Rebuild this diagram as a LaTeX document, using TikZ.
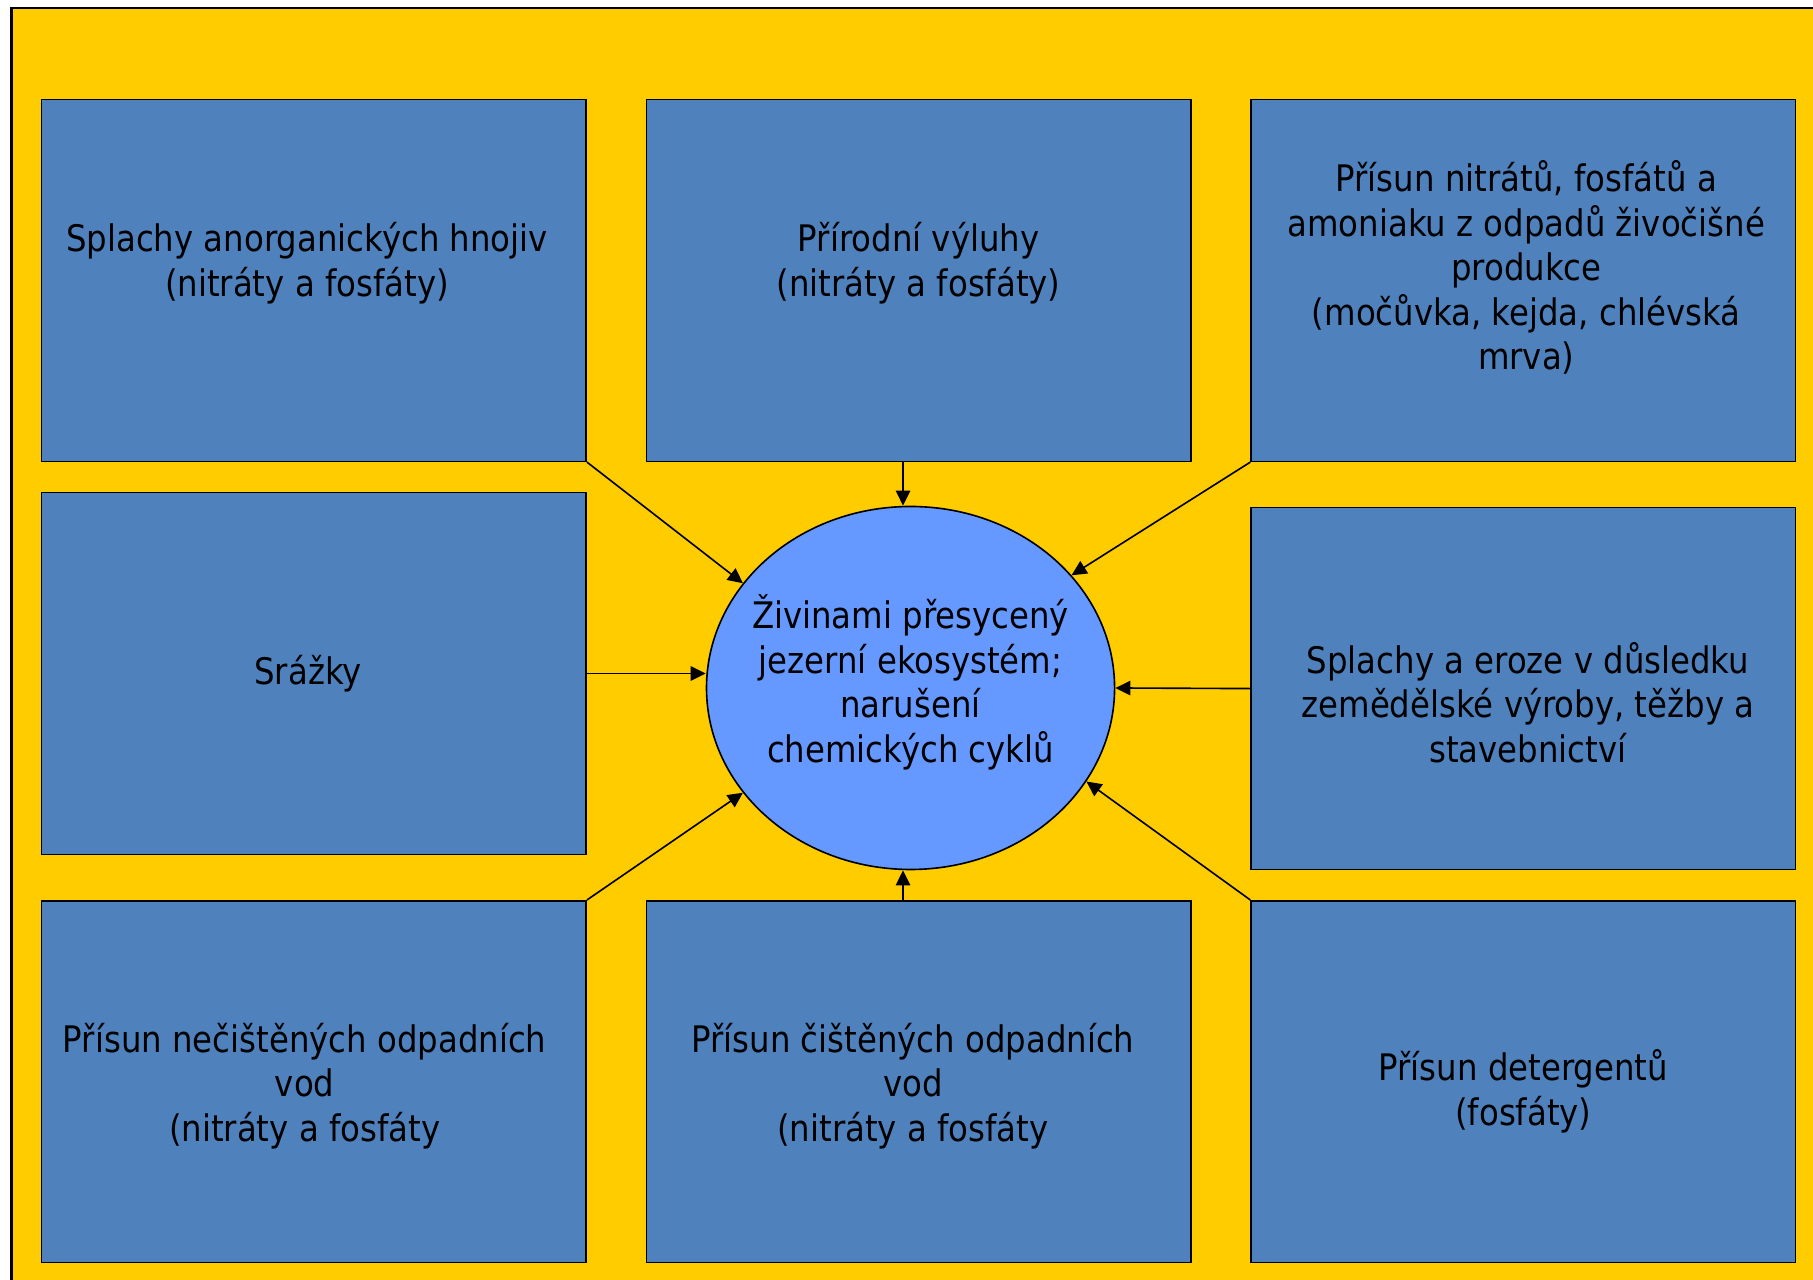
\documentclass[tikz,border=0pt]{standalone}
\usepackage{fontspec}
\setmainfont[FakeStretch=0.885]{DejaVu Sans}
\usetikzlibrary{arrows.meta,shapes.geometric,positioning}
\definecolor{slideyellow}{HTML}{FFCC00}
\definecolor{boxblue}{HTML}{4F81BD}
\definecolor{lakeblue}{HTML}{6699FF}
\tikzset{
  srcbox/.style={draw, rectangle, fill=boxblue, line width=0.8pt, minimum width=9.42cm, minimum height=6.26cm, inner sep=0pt},
  lakeell/.style={draw, ellipse, fill=lakeblue, line width=0.8pt, minimum width=7.06cm, minimum height=6.28cm, inner sep=0pt},
  boxtext/.style={align=center, inner sep=0pt, font=\fontsize{18}{21.9}\selectfont},
  feed/.style={-{Triangle[length=0.26cm, width=0.25cm]}, line width=0.8pt}
}

\begin{document}
\begin{tikzpicture}[x=0.02cm, y=-0.02cm]
        \useasboundingbox (0,0) rectangle (1568,1107);
        \fill[white] (0,0) rectangle (1568,1107);
        \clip (0,0) rectangle (1568,1107);
        % Slide background, cut off on the right and at the bottom
        \draw[fill=slideyellow, line width=1.1pt] (10,7) rectangle (1600,1140);

        % Sources of nutrients, three rows
        \node[srcbox] (fert) at (271.5,242.5) {};
        \node[srcbox] (leach) at (794.5,242.5) {};
        \node[srcbox] (manure) at (1317.5,242.5) {};
        \node[srcbox] (rain) at (271.5,582.5) {};
        \node[srcbox] (erosion) at (1317.5,595.5) {};
        \node[srcbox] (sewage) at (271.5,935.5) {};
        \node[srcbox] (treated) at (794.5,935.5) {};
        \node[srcbox] (deterg) at (1317.5,935.5) {};

        % Lake in the middle
        \node[lakeell] (lake) at (787.5,595) {};

        % Texts, not quite centred in their boxes
        \node[boxtext] (fertText) at ([xshift=-0.12cm, yshift=0.3cm]fert.center) {Splachy anorganických hnojiv\\(nitráty a fosfáty)};
        \node[boxtext] (leachText) at ([yshift=0.3cm]leach.center) {Přírodní výluhy\\ (nitráty a fosfáty)};
        \node[boxtext] (manureText) at ([xshift=0.05cm, yshift=0.22cm]manure.center) {Přísun nitrátů, fosfátů a\\amoniaku z odpadů živočišné\\produkce\\(močůvka, kejda, chlévská\\mrva)};
        \node[boxtext] (rainText) at ([xshift=-0.1cm]rain.center) {Srážky};
        \node[boxtext] (erosionText) at ([xshift=0.08cm, yshift=-0.24cm]erosion.center) {Splachy a eroze v důsledku\\zemědělské výroby, těžby a\\stavebnictví};
        \node[boxtext] (sewageText) at ([xshift=-0.16cm, yshift=-0.07cm]sewage.center) {Přísun nečištěných odpadních\\vod\\(nitráty a fosfáty};
        \node[boxtext] (treatedText) at ([xshift=-0.1cm, yshift=-0.07cm]treated.center) {Přísun čištěných odpadních\\vod\\(nitráty a fosfáty};
        \node[boxtext] (detergText) at ([yshift=-0.17cm]deterg.center) {Přísun detergentů\\(fosfáty)};
        \node[boxtext] (lakeText) at ([yshift=0.1cm]lake.center) {Živinami přesycený\\jezerní ekosystém;\\narušení\\chemických cyklů};

        % Everything flows into the lake
        \draw[feed] (fert.south east) -- (lake.148);
        \draw[feed] ([xshift=-0.13cm]lake.north |- leach.south) -- ([xshift=-0.13cm]lake.north);
        \draw[feed] (manure.south west) -- (lake.35);
        \draw[feed] (rain.east) -- (rain.east -| lake.west);
        \draw[feed] (erosion.west) -- (lake.east);
        \draw[feed] (sewage.north east) -- (lake.212);
        \draw[feed] ([xshift=-0.13cm]lake.south |- treated.north) -- ([xshift=-0.13cm]lake.south);
        \draw[feed] (deterg.north west) -- (lake.332);
\end{tikzpicture}
\end{document}
